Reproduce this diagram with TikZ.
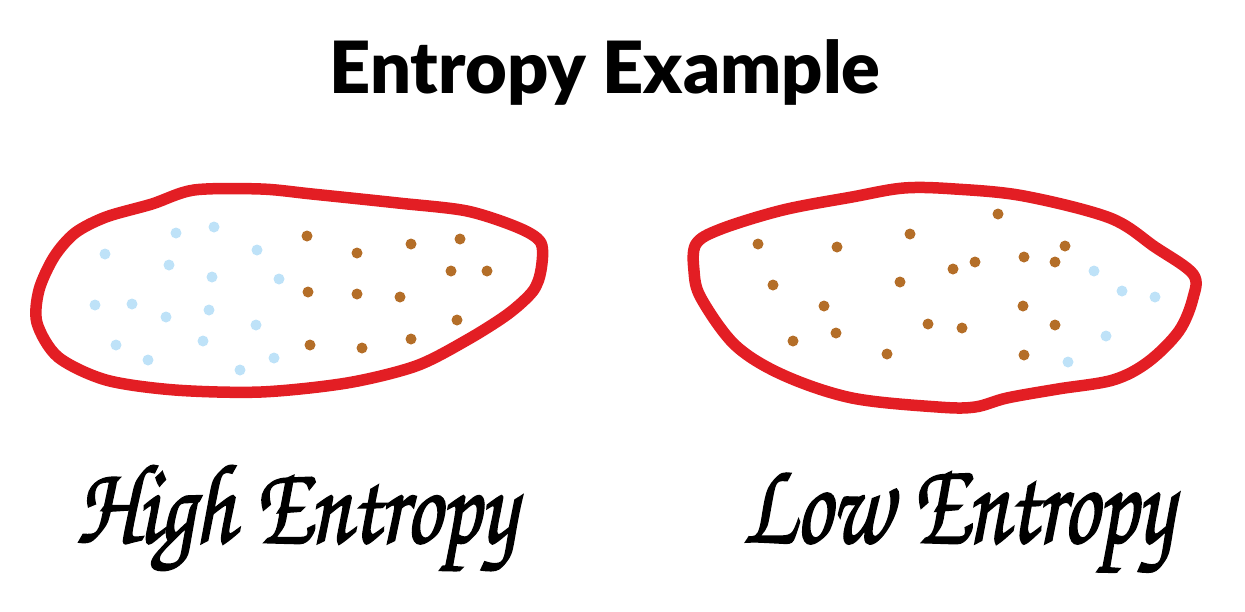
\documentclass[tikz,border=0pt]{standalone}
\usepackage{fontspec}
\setmainfont{Lato}[BoldFont={Lato Black}]
\newfontfamily\brush{TeX Gyre Chorus}[FakeBold=1.8]
\definecolor{blobred}{HTML}{E31E24}
\definecolor{dotblue}{HTML}{BEE2F8}
\definecolor{dotbrown}{HTML}{B46E28}
\tikzset{
  blob/.style={draw=blobred, line width=11.5pt, line join=round},
  bdot/.style={circle, fill=dotblue, inner sep=0pt, minimum size=11pt},
  odot/.style={circle, fill=dotbrown, inner sep=0pt, minimum size=11pt},
  lbl/.style={inner sep=0pt, anchor=center}
}
\begin{document}
\begin{tikzpicture}[x=1pt,y=-1pt]
\useasboundingbox (0,0) rectangle (1245,611);
\node[lbl] (title) at (605,72) {\fontsize{72}{80}\selectfont\bfseries Entropy Example};
% left blob
\draw[blob] plot[smooth cycle, tension=0.5] coordinates {
 (194,190) (261,189) (312,194) (398,203) (467,211) (519,228) (541,243)
 (541,270) (533,291) (508,314) (467,340) (416,366) (347,383) (261,392)
 (175,390) (106,380) (58,357) (37,323) (39,290) (54,257) (75,233)
 (106,217) (152,204)};
% right blob
\draw[blob] plot[smooth cycle, tension=0.55] coordinates {
 (904,188) (955,189) (1024,196) (1110,218) (1155,247) (1193,274) (1193,298)
 (1179,331) (1148,362) (1113,380) (1058,389) (1007,398) (975,407) (938,407)
 (852,398) (783,375) (735,345) (701,298) (694,271) (696,244) (721,229)
 (783,210) (852,197)};
% left dots
\foreach \x/\y [count=\i] in {105/254,176/233,214/227,257/250,169/265,212/277,279/279,95/305,132/304,166/317,209/310,256/325,116/345,203/341,148/360,240/370,274/358}
  \node[bdot] (lb\i) at (\x,\y) {};
\foreach \x/\y [count=\i] in {307/236,357/253,411/244,460/239,451/271,487/271,308/292,357/294,400/297,457/320,310/345,362/348,411/339}
  \node[odot] (lo\i) at (\x,\y) {};
% right dots
\foreach \x/\y [count=\i] in {758/244,837/247,910/234,998/214,1065/246,1024/257,1055/262,975/262,953/269,773/285,900/282,824/306,1023/306,836/333,928/324,962/328,1055/325,793/341,887/354,1024/355}
  \node[odot] (ro\i) at (\x,\y) {};
\foreach \x/\y [count=\i] in {1094/271,1122/291,1155/297,1106/336,1068/362}
  \node[bdot] (rb\i) at (\x,\y) {};
% labels
\node[lbl] (high) at (296,518) {\resizebox*{440pt}{105pt}{\brush High Entropy}};
\node[lbl] (low) at (958,522) {\resizebox*{430pt}{100pt}{\brush Low Entropy}};
\end{tikzpicture}
\end{document}
